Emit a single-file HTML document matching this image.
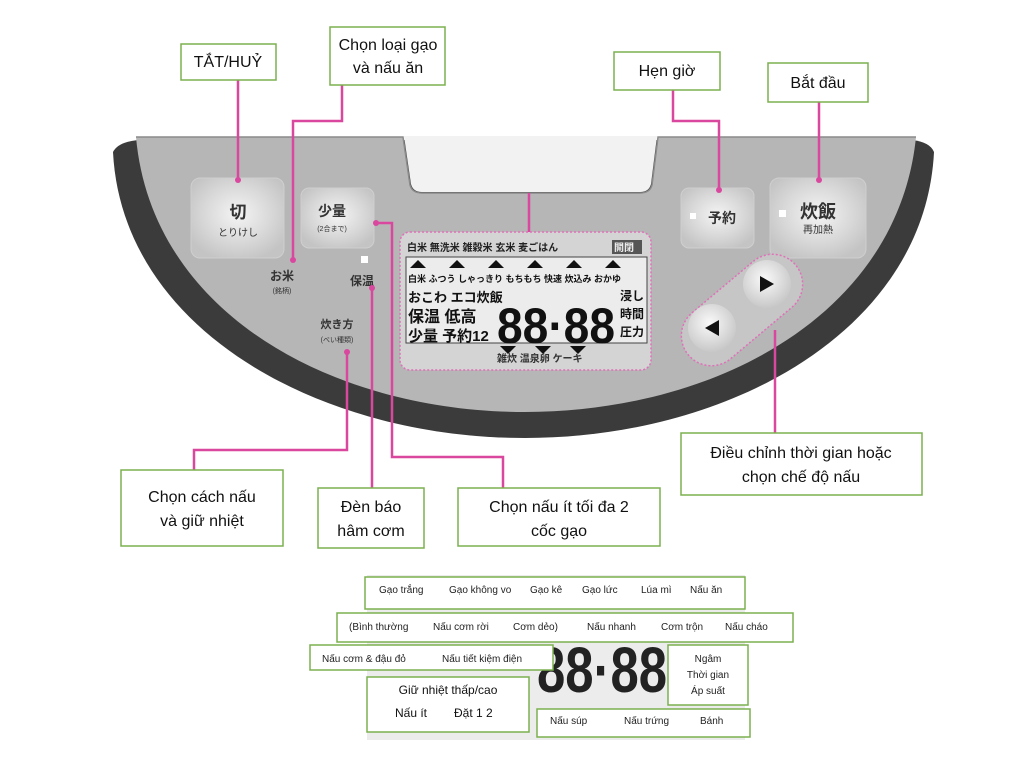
<!DOCTYPE html>
<html><head><meta charset="utf-8"><style>
body{margin:0;background:#fff;}
svg text{font-family:"Liberation Sans","Noto Sans CJK JP",sans-serif;}
</style></head><body>
<svg width="1024" height="768" viewBox="0 0 1024 768" xmlns="http://www.w3.org/2000/svg">
<defs>
<radialGradient id="btn" cx="50%" cy="45%" r="60%"><stop offset="0" stop-color="#f4f4f4"/><stop offset="0.6" stop-color="#d8d8d8"/><stop offset="1" stop-color="#c4c4c4"/></radialGradient>
<radialGradient id="rb" cx="45%" cy="40%" r="60%"><stop offset="0" stop-color="#fafafa"/><stop offset="1" stop-color="#c8c8c8"/></radialGradient>
</defs>
<!-- bowl -->
<path d="M113,152 Q118,142 138,140 L912,140 Q930,142 934,152 C925,330 730,438 525,438 C320,438 122,330 113,152 Z" fill="#3b3b3b"/>
<path d="M136,137 L403,137 L410,185 Q412,193 422,193 L640,193 Q650,193 652,185 L658,137 L916,137 C898,315 715,412 525,412 C335,412 152,315 136,137 Z" fill="#b6b6b6"/>
<path d="M136,137 L403,137 L410,185 Q412,193 422,193 L640,193 Q650,193 652,185 L658,137 L916,137" fill="none" stroke="#8a8a8a" stroke-width="1.5"/>
<path d="M404,136 L411,184 Q413,192 422,192 L640,192 Q649,192 651,184 L657,136 Z" fill="#f2f2f2"/>
<!-- buttons -->
<rect x="191" y="178" width="93" height="80" rx="9" fill="url(#btn)" stroke="#cfcfcf"/>
<text x="238" y="218" font-size="17" font-weight="bold" text-anchor="middle" fill="#333">切</text>
<text x="238" y="236" font-size="10" text-anchor="middle" fill="#333">とりけし</text>
<rect x="301" y="188" width="73" height="60" rx="8" fill="url(#btn)" stroke="#cfcfcf"/>
<text x="332" y="216" font-size="14" font-weight="bold" text-anchor="middle" fill="#333">少量</text>
<text x="332" y="231" font-size="7" text-anchor="middle" fill="#333">(2合まで)</text>
<rect x="681" y="188" width="73" height="60" rx="8" fill="url(#btn)" stroke="#cfcfcf"/>
<rect x="690" y="213" width="6" height="6" fill="#fff"/>
<text x="722" y="223" font-size="14" font-weight="bold" text-anchor="middle" fill="#333">予約</text>
<rect x="770" y="178" width="96" height="80" rx="9" fill="url(#btn)" stroke="#cfcfcf"/>
<rect x="779" y="210" width="7" height="7" fill="#fff"/>
<text x="818" y="218" font-size="18" font-weight="bold" text-anchor="middle" fill="#333">炊飯</text>
<text x="818" y="233" font-size="10" text-anchor="middle" fill="#333">再加熱</text>
<text x="282" y="280" font-size="12" font-weight="bold" text-anchor="middle" fill="#333">お米</text>
<text x="282" y="293" font-size="7" text-anchor="middle" fill="#333">(銘柄)</text>
<rect x="361" y="256" width="7" height="7" fill="#fff"/>
<text x="362" y="285" font-size="12" font-weight="bold" text-anchor="middle" fill="#333">保温</text>
<text x="337" y="328" font-size="11" font-weight="bold" text-anchor="middle" fill="#333">炊き方</text>
<text x="337" y="342" font-size="7" text-anchor="middle" fill="#333">(べい種類)</text>
<!-- LCD -->
<rect x="400" y="232" width="251" height="138" rx="10" fill="#d4d4d4" stroke="#e070b8" stroke-width="1.5" stroke-dasharray="2,2"/>
<text x="407" y="251" font-size="10" font-weight="bold" fill="#222">白米 無洗米 雑穀米 玄米 麦ごはん</text>
<rect x="612" y="240" width="30" height="14" fill="#555"/><text x="614" y="251" font-size="10" font-weight="bold" fill="#eee">開閉</text>
<rect x="406" y="257" width="241" height="86" fill="#ececec" stroke="#444" stroke-width="1"/>
<g fill="#111">
<polygon points="410,268 418,260 426,268"/><polygon points="449,268 457,260 465,268"/><polygon points="488,268 496,260 504,268"/><polygon points="527,268 535,260 543,268"/><polygon points="566,268 574,260 582,268"/><polygon points="605,268 613,260 621,268"/>
<polygon points="500,346 508,354 516,346"/><polygon points="535,346 543,354 551,346"/><polygon points="570,346 578,354 586,346"/>
</g>
<text x="408" y="282" font-size="9" font-weight="bold" fill="#111">白米 ふつう しゃっきり もちもち 快速 炊込み おかゆ</text>
<text x="408" y="302" font-size="13" font-weight="bold" fill="#111">おこわ エコ炊飯</text>
<text x="408" y="322" font-size="16" font-weight="bold" fill="#111">保温 低高</text>
<text x="408" y="341" font-size="15" font-weight="bold" fill="#111">少量 予約12</text>
<text x="497" y="343" font-size="50" font-weight="bold" fill="#111" textLength="118" lengthAdjust="spacingAndGlyphs">88·88</text>
<text x="620" y="300" font-size="12" font-weight="bold" fill="#111">浸し</text>
<text x="620" y="318" font-size="12" font-weight="bold" fill="#111">時間</text>
<text x="620" y="336" font-size="12" font-weight="bold" fill="#111">圧力</text>
<text x="497" y="362" font-size="10" font-weight="bold" fill="#333">雑炊 温泉卵 ケーキ</text>
<!-- arrow pill -->
<g transform="translate(742,310) rotate(-40)">
<rect x="-70" y="-30" width="140" height="60" rx="30" fill="#c6c6c6" stroke="#e070b8" stroke-width="1.5" stroke-dasharray="2,2"/>
</g>
<circle cx="767" cy="284" r="24" fill="url(#rb)"/>
<polygon points="760,276 774,284 760,292" fill="#111"/>
<circle cx="712" cy="328" r="24" fill="url(#rb)"/>
<polygon points="719,320 705,328 719,336" fill="#111"/>
<!-- connectors -->
<g stroke="#d9489e" stroke-width="2.5" fill="none">
<polyline points="238,80 238,180"/>
<polyline points="342,85 342,121 293,121 293,260"/>
<polyline points="673,90 673,121 719,121 719,190"/>
<polyline points="819,102 819,180"/>
<polyline points="529,193 529,232"/>
<polyline points="376,223 392,223 392,457 503,457 503,488"/>
<polyline points="372,288 372,488"/>
<polyline points="347,352 347,450 194,450 194,470"/>
<polyline points="775,330 775,433"/>
</g>
<g fill="#d9489e">
<circle cx="238" cy="180" r="3"/><circle cx="293" cy="260" r="3"/><circle cx="719" cy="190" r="3"/><circle cx="819" cy="180" r="3"/>
<circle cx="376" cy="223" r="3"/><circle cx="372" cy="288" r="3"/><circle cx="347" cy="352" r="3"/>
</g>
<!-- labels -->
<g fill="#fff" stroke="#7bb04f" stroke-width="1.5">
<rect x="181" y="44" width="95" height="36"/>
<rect x="330" y="27" width="115" height="58"/>
<rect x="614" y="52" width="106" height="38"/>
<rect x="768" y="63" width="100" height="39"/>
<rect x="681" y="433" width="241" height="62"/>
<rect x="121" y="470" width="162" height="76"/>
<rect x="318" y="488" width="106" height="60"/>
<rect x="458" y="488" width="202" height="58"/>
</g>
<g font-size="16" fill="#111" text-anchor="middle">
<text x="228" y="67">TẮT/HUỶ</text>
<text x="388" y="50">Chọn loại gạo</text><text x="388" y="73">và nấu ăn</text>
<text x="667" y="76">Hẹn giờ</text>
<text x="818" y="88">Bắt đầu</text>
<text x="801" y="458">Điều chỉnh thời gian hoặc</text><text x="801" y="482">chọn chế độ nấu</text>
<text x="202" y="502">Chọn cách nấu</text><text x="202" y="526">và giữ nhiệt</text>
<text x="371" y="512">Đèn báo</text><text x="371" y="536">hâm cơm</text>
<text x="559" y="512">Chọn nấu ít tối đa 2</text><text x="559" y="536">cốc gạo</text>
</g>
<!-- bottom legend -->
<rect x="367" y="575" width="378" height="165" fill="#ececec"/>
<text x="537" y="692" font-size="64" font-weight="bold" fill="#222" textLength="130" lengthAdjust="spacingAndGlyphs">88·88</text>
<text x="540" y="728" font-size="11" font-weight="bold" fill="#888">Nấu súp Bánh Hấp Xôi</text>
<g fill="#fff" stroke="#7bb04f" stroke-width="1.5">
<rect x="365" y="577" width="380" height="32"/>
<rect x="337" y="613" width="456" height="29"/>
<rect x="310" y="645" width="243" height="25"/>
<rect x="367" y="677" width="162" height="55"/>
<rect x="668" y="645" width="80" height="60"/>
<rect x="537" y="709" width="213" height="28"/>
</g>
<g font-size="10" fill="#222">
<text x="379" y="593">Gạo trắng</text><text x="449" y="593">Gạo không vo</text><text x="530" y="593">Gạo kê</text><text x="582" y="593">Gạo lức</text><text x="641" y="593">Lúa mì</text><text x="690" y="593">Nấu ăn</text>
<text x="349" y="630">(Bình thường</text><text x="433" y="630">Nấu cơm rời</text><text x="513" y="630">Cơm dẻo)</text><text x="587" y="630">Nấu nhanh</text><text x="661" y="630">Cơm trộn</text><text x="725" y="630">Nấu cháo</text>
<text x="322" y="662">Nấu cơm &amp; đậu đỏ</text><text x="442" y="662">Nấu tiết kiệm điện</text>
<text x="708" y="662" text-anchor="middle">Ngâm</text><text x="708" y="678" text-anchor="middle">Thời gian</text><text x="708" y="694" text-anchor="middle">Áp suất</text>
<text x="550" y="724">Nấu súp</text><text x="624" y="724">Nấu trứng</text><text x="700" y="724">Bánh</text>
</g>
<g font-size="12" fill="#111">
<text x="448" y="694" text-anchor="middle">Giữ nhiệt thấp/cao</text>
<text x="395" y="717">Nấu ít</text><text x="454" y="717">Đặt 1 2</text>
</g>
</svg>
</body></html>
